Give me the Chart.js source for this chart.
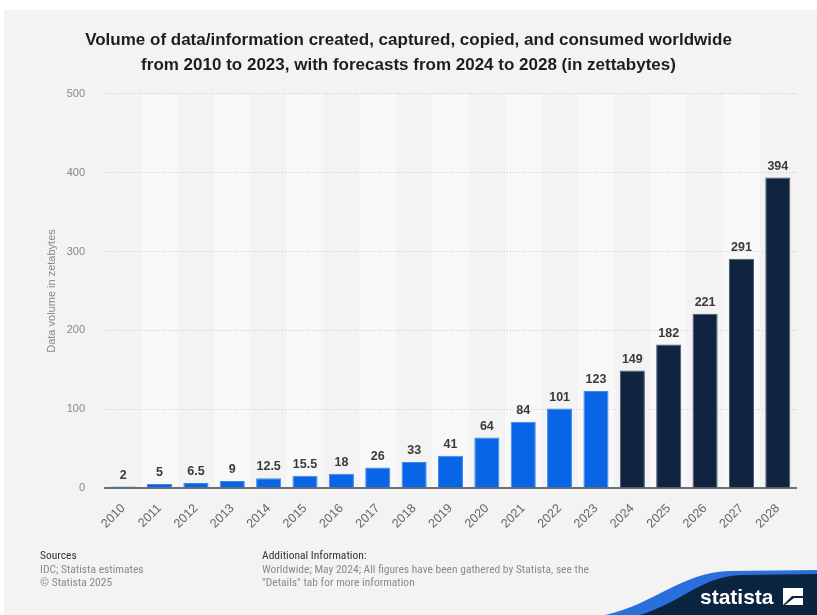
<!DOCTYPE html>
<html>
<head>
<meta charset="utf-8">
<script src="https://cdn.jsdelivr.net/npm/chart.js@4/dist/chart.umd.min.js"></script>
<style>
  html, body { margin: 0; padding: 0; background: #fff; }
  #wrap { position: relative; width: 817px; height: 615px; overflow: hidden; }
  #chart { position: absolute; left: 0; top: 0; }
  .foot { position: absolute; top: 549px; font-family: "Liberation Sans Narrow", "Roboto Condensed", "Liberation Sans", Arial, sans-serif; font-size: 11.5px; line-height: 13.5px; color: #8a8a8a; }
  .foot b { font-weight: normal; color: #333; }
  #sources { left: 40px; }
  #info { left: 262px; }
  #logo { position: absolute; left: 600px; top: 565px; }
</style>
</head>
<body>
<div id="wrap">
  <canvas id="chart" width="817" height="615"></canvas>
  <div class="foot" id="sources"><b>Sources</b><br>IDC; Statista estimates<br>© Statista 2025</div>
  <div class="foot" id="info"><b>Additional Information:</b><br>Worldwide; May 2024; All figures have been gathered by Statista, see the<br>"Details" tab for more information</div>
  <svg id="logo" width="217" height="50" viewBox="600 565 217 50">
    <path d="M605 615 C655 604 682 572 730 571 L817 570 L817 615 Z" fill="#2a6fdb"/>
    <path d="M640 615 C682 602 702 576 742 575 L817 574 L817 615 Z" fill="#0b2540"/>
    <text x="700" y="604" fill="#fff" font-family="Liberation Sans, Arial, sans-serif" font-weight="bold" font-size="21">statista</text>
    <rect x="783" y="588" width="20" height="17" fill="#fff"/>
    <path d="M783 605 L792 596 L803 596 L803 598 L794 598 L785 605 Z" fill="#0b2540"/>
  </svg>
</div>
<script>
const years = ["2010", "2011", "2012", "2013", "2014", "2015", "2016", "2017", "2018", "2019",
  "2020", "2021", "2022", "2023", "2024", "2025", "2026", "2027", "2028"];
const volumes = [2, 5, 6.5, 9, 12.5, 15.5, 18, 26, 33, 41, 64, 84, 101, 123, 149, 182, 221, 291, 394];
const firstForecast = "2024";
const titleLines = [
  "Volume of data/information created, captured, copied, and consumed worldwide",
  "from 2010 to 2023, with forecasts from 2024 to 2028 (in zettabytes)"
];

const forecastIdx = years.indexOf(firstForecast);
const barColors = years.map((y, i) => (i < forecastIdx ? "#0866e6" : "#10243f"));
const barBorders = years.map((y, i) => (i < forecastIdx ? "#3d86ec" : "#4a5a70"));

// panel background + alternating column stripes
const backdrop = {
  id: "backdrop",
  beforeDraw(chart) {
    const { ctx, chartArea, scales } = chart;
    ctx.save();
    ctx.fillStyle = "#fff";
    ctx.fillRect(0, 0, chart.width, chart.height);
    ctx.fillStyle = "#f3f3f3";
    ctx.fillRect(4, 10, chart.width - 4, chart.height - 10);
    const colW = chartArea.width / years.length;
    ctx.fillStyle = "#f8f8f8";
    years.forEach((y, i) => {
      if (i % 2 === 1) {
        const cx = scales.x.getPixelForValue(i);
        ctx.fillRect(cx - colW / 2, chartArea.top, colW, chartArea.bottom - chartArea.top);
      }
    });
    ctx.restore();
  }
};

// value labels above each bar
const valueLabels = {
  id: "valueLabels",
  afterDatasetsDraw(chart) {
    const { ctx } = chart;
    const meta = chart.getDatasetMeta(0);
    ctx.save();
    ctx.font = "bold 12.5px 'Liberation Sans', Arial, sans-serif";
    ctx.fillStyle = "#3a3a3a";
    ctx.textAlign = "center";
    ctx.textBaseline = "bottom";
    meta.data.forEach((bar, i) => {
      ctx.fillText(String(volumes[i]), bar.x, bar.y - 5);
    });
    ctx.restore();
  }
};

new Chart(document.getElementById("chart"), {
  type: "bar",
  data: {
    labels: years,
    datasets: [{
      data: volumes,
      backgroundColor: barColors,
      borderColor: barBorders,
      borderWidth: 1,
      categoryPercentage: 1,
      barPercentage: 0.69
    }]
  },
  options: {
    responsive: false,
    animation: false,
    // equal side padding keeps the title centred on the page
    layout: { padding: { top: 10, left: 21, right: 21, bottom: 72 } },
    plugins: {
      legend: { display: false },
      tooltip: { enabled: false },
      title: {
        display: true,
        text: titleLines,
        color: "#1e1e1e",
        font: { family: "'Liberation Sans', Arial, sans-serif", size: 17, weight: "bold", lineHeight: 1.47 },
        padding: { top: 18, bottom: 16 }
      }
    },
    scales: {
      x: {
        grid: { display: false },
        border: { color: "#707070", width: 2 },
        ticks: {
          color: "#666",
          font: { family: "'Liberation Sans', Arial, sans-serif", size: 12.5 },
          maxRotation: 45,
          minRotation: 45,
          autoSkip: false,
          padding: 5
        },
        afterFit(scale) { scale.height = 55; }
      },
      y: {
        min: 0,
        max: 500,
        grid: { color: "#c9c9c9", drawTicks: false },
        border: { display: false, dash: [1, 2] },
        ticks: {
          stepSize: 100,
          color: "#888",
          font: { family: "'Liberation Sans', Arial, sans-serif", size: 11 },
          padding: 20
        },
        title: {
          display: true,
          text: "Data volume in zetabytes",
          color: "#888",
          font: { family: "'Liberation Sans', Arial, sans-serif", size: 11 },
          padding: { top: 24 }
        },
        afterFit(scale) { scale.width = 84; }
      }
    }
  },
  plugins: [backdrop, valueLabels]
});
</script>
</body>
</html>
